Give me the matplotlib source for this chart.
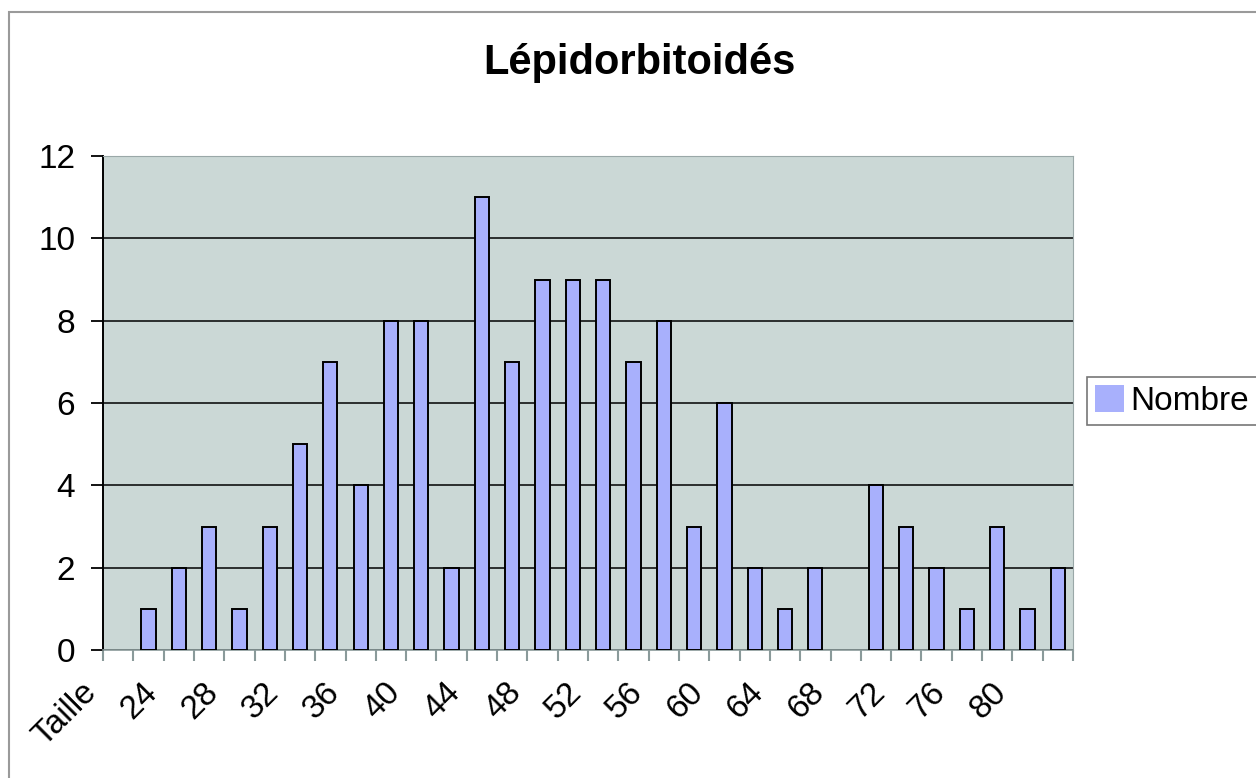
import numpy as np
import matplotlib
matplotlib.use("Agg")
import matplotlib.pyplot as plt
from matplotlib.patches import Rectangle

# Data
categories = ["Taille"] + [str(v) for v in range(22, 84, 2)]
counts = [None, 1, 2, 3, 1, 3, 5, 7, 4, 8, 8, 2, 11, 7, 9, 9, 9, 7, 8, 3, 6,
          2, 1, 2, 0, 4, 3, 2, 1, 3, 1, 2]
y_ticks = [0, 2, 4, 6, 8, 10, 12]

plt.rcParams['font.family'] = ['Liberation Sans', 'DejaVu Sans']

fig = plt.figure(figsize=(12.56, 7.78), dpi=100)
fig.patch.set_facecolor('white')

# outer chart frame (only top/left visible in the original)
fig.patches.append(Rectangle((9 / 1256, -0.1), 1.2, 1 - 12 / 778 + 0.1,
                             transform=fig.transFigure, fill=False,
                             edgecolor='#9a9a9a', linewidth=1.5))

ax = fig.add_axes([103 / 1256, 1 - 650 / 778, 970 / 1256, 494 / 778])
ax.set_facecolor('#cbd8d6')

x = np.arange(len(categories))
# empty cells (Taille) and zero counts draw nothing
bx = [xi for xi, c in zip(x, counts) if c]
bh = [c for c in counts if c]
ax.bar(bx, bh, width=0.47, color='#a8b0fc',
       edgecolor='black', linewidth=1.4, label='Nombre', zorder=3)

ax.set_xlim(-0.5, len(categories) - 0.5)
ax.set_ylim(0, 12)
ax.set_yticks(y_ticks)
ax.yaxis.grid(True, color='black', linewidth=1.1, zorder=1)
ax.set_axisbelow(True)

# tick marks at category boundaries, labels every other category
ax.set_xticks(np.arange(len(categories) + 1) - 0.5, minor=True)
ax.set_xticks(x[::2] - 0.5)
ax.set_xticklabels(categories[::2], rotation=45, ha='right', va='top',
                   fontsize=24)
ax.tick_params(axis='x', which='both', length=8, color='#8a9a9a', width=1.5)
ax.tick_params(axis='x', which='major', pad=11)
ax.tick_params(axis='y', labelsize=24, length=9, width=1.3, pad=11)

for s in ['top', 'right']:
    ax.spines[s].set_color('#9aa8a8')
ax.spines['left'].set_color('black')
ax.spines['left'].set_linewidth(1.4)
ax.spines['bottom'].set_color('#8a9a9a')
ax.spines['bottom'].set_linewidth(1.2)

fig.text(639 / 1256, 1 - 63 / 778, 'Lépidorbitoidés', ha='center',
         va='center', fontsize=30, fontweight='bold')

leg = fig.legend(loc='center left', bbox_to_anchor=(1087 / 1256, 1 - 401 / 778),
                 fontsize=24, frameon=True, fancybox=False, handlelength=0.85,
                 handleheight=0.85, handletextpad=0.2, borderpad=0.25,
                 borderaxespad=0)
leg.get_frame().set_edgecolor('#555555')
leg.get_frame().set_linewidth(1.2)
leg.legend_handles[0].set_edgecolor('none')

fig.savefig('out.png', dpi=100)
